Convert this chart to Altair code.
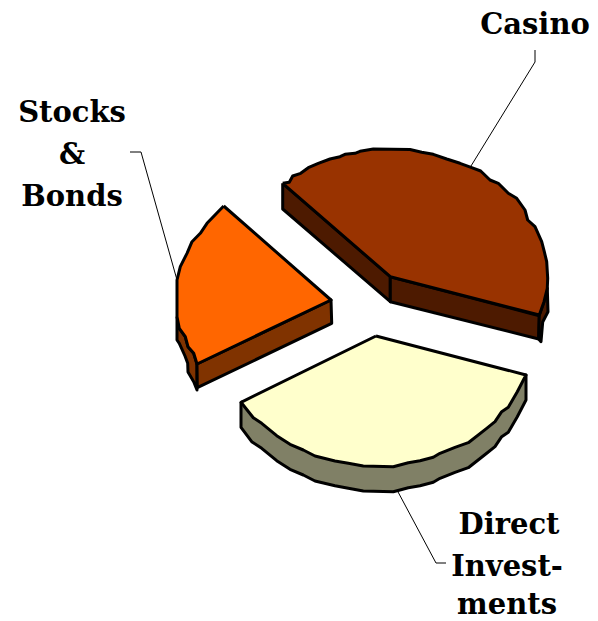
import altair as alt
import pandas as pd

# Outlines, as (x, y) in picture units
casino_left_side = [(282.7,183.3),(390.3,276.7),(390.3,301.7),(282.7,209)]
casino_front_side = [(390.3,276.7),(539.3,315.7),(538.7,339),(390.3,301.7)]
casino_rim = [(539.3,315),(544,301.7),(547.3,288.3),(548,311.7),(542.7,322),(541,341.7),(538.7,339)]
casino_top = [(282.7,183.3),(289.3,182.3),(292.7,176),(300.7,173.3),(308.3,167.7),(318.3,163.3),(330,159),(340,156.7),(345,154.3),(355,153.3),(360,151.3),(373.3,149),(410,149.5),(421.7,152.3),(433.3,154.3),(446.7,159),(460,163.3),(471.7,167.7),(480.7,171),(490,180),(498.3,183.3),(508.3,193.3),(516.7,198.3),(525,210),(527.7,220),(535,226.7),(541.7,241.7),(544.3,251.7),(546.7,261.7),(547.7,278.3),(547.3,288.3),(544,301.7),(539.3,315),(390.3,276.7)]

stocks_side = [(197,364),(331,300),(331.7,323.3),(197.3,387.7)]
stocks_rim = [(177,316.7),(179.3,328.3),(185.3,336.7),(188,346.7),(193.7,353.3),(197,364),(197,390),(193.7,381.7),(188,372),(187.7,363.3),(185,356),(179.3,343.3),(177,340)]
stocks_top = [(223.7,206),(207,223.3),(200.3,233.3),(192,241.7),(187,253.3),(180.3,266.7),(177,280),(177,316.7),(179.3,328.3),(185.3,336.7),(188,346.7),(193.7,353.3),(197,364),(331,300)]

direct_side = [(241,402.3),(241,427.3),(251.7,441.7),(261.7,448.3),(276.7,460.7),(290,469.3),(303.3,475),(315,481),(335,485.7),(348.3,488.3),(363.3,491),(393.3,491.7),(408.3,487.7),(420,485.7),(433.3,482.3),(440,478.3),(455,472.3),(468.3,467.7),(486.7,453.3),(495,446.7),(501.7,436.7),(508.3,432.3),(517.3,416.7),(526,400),(526,375)]
direct_top = [(376,336),(526,375),(517.3,391.7),(508.3,407.3),(501.7,411.7),(495,421.7),(486.7,428.3),(468.3,442.7),(455,447.3),(440,453.3),(433.3,457.3),(420,460.7),(408.3,462.7),(393.3,466.7),(363.3,466),(348.3,463.3),(335,461),(315,456),(303.3,450),(290,444.3),(276.7,435.7),(261.7,423.3),(253.3,417.7),(241,402.3)]

leader_casino = [(471,166),(535,62),(535,50)]
leader_direct = [(397,490),(436,563),(446,563)]
leader_stocks = [(130,152),(141,152),(177,280)]

label_text = ["Casino","Stocks","&","Bonds","Direct","Invest-","ments"]
label_x = [535,72,72,72,509,507,507]
label_y = [34,122,164,206,534,576,614]

polygons = [
    (direct_side,"#808066"),(direct_top,"#FFFFCC"),
    (stocks_rim,"#803300"),(stocks_side,"#803300"),(stocks_top,"#FF6600"),
    (casino_left_side,"#4D1A00"),(casino_front_side,"#4D1A00"),(casino_rim,"#4D1A00"),(casino_top,"#993300"),
]

X = alt.X("x:Q", scale=alt.Scale(domain=[8,590]), axis=None)
Y = alt.Y("y:Q", scale=alt.Scale(domain=[621,8]), axis=None)

def frame(points, closed):
    pts = list(points) + ([points[0]] if closed else [])
    return pd.DataFrame({"x":[p[0] for p in pts],"y":[p[1] for p in pts],"i":range(len(pts))})

layers = []
for pts in (leader_casino, leader_direct, leader_stocks):
    layers.append(alt.Chart(frame(pts,False)).mark_line(color="#000000",strokeWidth=1).encode(x=X,y=Y,order="i:Q"))
for pts,col in polygons:
    layers.append(alt.Chart(frame(pts,True)).mark_line(fill=col,stroke="#000000",strokeWidth=3,strokeJoin="round").encode(x=X,y=Y,order="i:Q"))

labels = pd.DataFrame({"x":label_x,"y":label_y,"t":label_text})
layers.append(alt.Chart(labels).mark_text(font="DejaVu Serif",fontWeight="bold",fontSize=29,align="center",baseline="alphabetic",color="#000000").encode(x=X,y=Y,text="t:N"))

chart = alt.layer(*layers).properties(width=582,height=613,padding=0,autosize="none",background="#ffffff").configure_view(stroke=None)
chart.save("out.html", embed_options={"renderer":"svg","actions":False})
